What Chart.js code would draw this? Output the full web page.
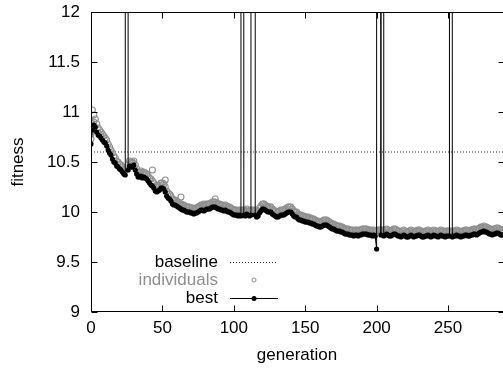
<!DOCTYPE html>
<html>
<head>
<meta charset="utf-8">
<script src="https://cdn.jsdelivr.net/npm/chart.js@4"></script>
<style>
  html, body { margin: 0; padding: 0; background: #fff; }
  #wrap { width: 503px; height: 370px; }
</style>
</head>
<body>
<div id="wrap"><canvas id="fitChart" width="503" height="370"></canvas></div>
<script>
// axis ticks
const xTicks = [0, 50, 100, 150, 200, 250];
const yTicks = [9, 9.5, 10, 10.5, 11, 11.5, 12];
const xMax = 288.5;   // visible part; the plot frame itself ends at 290, just past the edge
const xFrame = 290;
const baseline = 10.6;

// best fitness per generation (1000 = run blew up, goes off the top)
const best = [
  10.68, 10.82, 10.87, 10.85, 10.80, 10.77, 10.76, 10.74, 10.72, 10.70,
  10.69, 10.66, 10.62, 10.59, 10.57, 10.53, 10.50, 10.49, 10.46, 10.45,
  10.43, 10.42, 10.40, 10.38, 10.37, 1000, 10.42, 10.46, 10.45, 10.45,
  10.47, 10.42, 10.38, 10.35, 10.35, 10.36, 10.34, 10.35, 10.34, 10.33,
  10.31, 10.29, 10.27, 10.26, 10.24, 10.21, 10.20, 10.21, 10.22, 10.24,
  10.24, 10.23, 10.20, 10.16, 10.14, 10.13, 10.11, 10.08, 10.07, 10.07,
  10.06, 10.05, 10.04, 10.03, 10.02, 10.02, 10.01, 10.00, 10.00, 10.00,
  9.99, 9.99, 9.98, 9.99, 9.99, 10.00, 10.01, 10.02, 10.02, 10.01,
  10.02, 10.03, 10.03, 10.03, 10.04, 10.05, 10.05, 10.05, 10.04, 10.03,
  10.03, 10.02, 10.02, 10.01, 10.02, 10.01, 10.00, 10.00, 9.99, 9.98,
  9.97, 9.97, 9.97, 9.96, 9.97, 9.96, 1000, 9.97, 9.96, 9.98,
  9.97, 9.96, 9.97, 1000, 1000, 9.97, 9.95, 9.96, 9.99, 10.01,
  10.03, 10.03, 10.02, 10.01, 10.00, 10.00, 10.00, 9.98, 9.97, 9.96,
  9.95, 9.95, 9.96, 9.97, 9.97, 9.97, 9.98, 9.99, 10.00, 10.00,
  10.00, 9.98, 9.96, 9.95, 9.95, 9.93, 9.92, 9.92, 9.91, 9.91,
  9.90, 9.90, 9.90, 9.89, 9.89, 9.88, 9.88, 9.87, 9.86, 9.86,
  9.85, 9.85, 9.86, 9.87, 9.87, 9.87, 9.86, 9.85, 9.84, 9.83,
  9.83, 9.82, 9.81, 9.81, 9.81, 9.80, 9.80, 9.79, 9.78, 9.78,
  9.78, 9.77, 9.77, 9.77, 9.76, 9.77, 9.77, 9.76, 9.77, 9.77,
  9.78, 9.78, 9.78, 9.78, 9.77, 9.77, 9.77, 9.76, 9.77, 9.76,
  9.63, 1000, 1000, 9.77, 1000, 9.76, 9.77, 9.78, 9.77, 9.76,
  9.76, 9.77, 9.78, 9.78, 9.77, 9.76, 9.76, 9.75, 9.76, 9.77,
  9.76, 9.75, 9.75, 9.76, 9.77, 9.76, 9.75, 9.76, 9.76, 9.77,
  9.77, 9.76, 9.75, 9.75, 9.76, 9.76, 9.77, 9.76, 9.75, 9.76,
  9.77, 9.76, 9.76, 9.75, 9.76, 9.77, 9.76, 9.76, 9.75, 9.76,
  9.76, 9.76, 1000, 9.75, 9.76, 9.76, 9.77, 9.76, 9.76, 9.75,
  9.76, 9.76, 9.77, 9.77, 9.76, 9.76, 9.77, 9.77, 9.78, 9.78,
  9.77, 9.78, 9.79, 9.80, 9.80, 9.81, 9.80, 9.80, 9.79, 9.78,
  9.78, 9.77, 9.78, 9.78, 9.79, 9.79, 9.78, 9.77, 9.77, 9.77,
  9.78
];

// top of the population cloud per generation
const individuals = [
  10.78, 11.02, 10.97, 10.93, 10.88, 10.84, 10.82, 10.80, 10.78, 10.76,
  10.74, 10.72, 10.68, 10.65, 10.62, 10.59, 10.56, 10.54, 10.51, 10.50,
  10.48, 10.47, 10.45, 10.43, 10.42, 10.44, 10.47, 10.51, 10.50, 10.49,
  10.51, 10.47, 10.43, 10.40, 10.40, 10.41, 10.39, 10.40, 10.39, 10.38,
  10.36, 10.34, 10.33, 10.31, 10.29, 10.26, 10.25, 10.26, 10.27, 10.29,
  10.29, 10.28, 10.25, 10.21, 10.19, 10.18, 10.16, 10.13, 10.12, 10.12,
  10.11, 10.10, 10.09, 10.08, 10.07, 10.07, 10.06, 10.05, 10.05, 10.05,
  10.04, 10.04, 10.03, 10.04, 10.04, 10.05, 10.06, 10.07, 10.07, 10.06,
  10.07, 10.08, 10.08, 10.08, 10.09, 10.10, 10.10, 10.10, 10.09, 10.08,
  10.08, 10.07, 10.07, 10.06, 10.07, 10.06, 10.05, 10.05, 10.04, 10.03,
  10.02, 10.02, 10.02, 10.01, 10.02, 10.02, 10.01, 10.02, 10.01, 10.03,
  10.02, 10.01, 10.02, 10.02, 10.01, 10.02, 10.00, 10.01, 10.04, 10.06,
  10.08, 10.08, 10.07, 10.06, 10.05, 10.05, 10.05, 10.03, 10.02, 10.01,
  10.00, 10.00, 10.01, 10.02, 10.02, 10.02, 10.03, 10.04, 10.05, 10.05,
  10.05, 10.03, 10.01, 10.00, 10.00, 9.98, 9.97, 9.97, 9.96, 9.96,
  9.95, 9.95, 9.95, 9.94, 9.94, 9.93, 9.93, 9.92, 9.91, 9.91,
  9.90, 9.90, 9.91, 9.92, 9.92, 9.92, 9.91, 9.90, 9.89, 9.88,
  9.88, 9.87, 9.86, 9.86, 9.86, 9.85, 9.85, 9.84, 9.83, 9.83,
  9.83, 9.82, 9.82, 9.82, 9.81, 9.82, 9.82, 9.81, 9.82, 9.82,
  9.83, 9.83, 9.83, 9.83, 9.82, 9.82, 9.82, 9.81, 9.82, 9.81,
  9.81, 9.82, 9.82, 9.82, 9.82, 9.81, 9.82, 9.83, 9.82, 9.81,
  9.81, 9.82, 9.83, 9.83, 9.82, 9.81, 9.81, 9.80, 9.81, 9.82,
  9.81, 9.80, 9.80, 9.81, 9.82, 9.81, 9.80, 9.81, 9.81, 9.82,
  9.82, 9.81, 9.80, 9.80, 9.81, 9.81, 9.82, 9.81, 9.80, 9.81,
  9.82, 9.81, 9.81, 9.80, 9.81, 9.82, 9.81, 9.81, 9.80, 9.81,
  9.81, 9.81, 9.81, 9.80, 9.81, 9.81, 9.82, 9.81, 9.81, 9.80,
  9.81, 9.81, 9.82, 9.82, 9.81, 9.81, 9.82, 9.82, 9.83, 9.83,
  9.82, 9.83, 9.84, 9.85, 9.85, 9.86, 9.85, 9.85, 9.84, 9.83,
  9.83, 9.82, 9.83, 9.83, 9.84, 9.84, 9.83, 9.82, 9.82, 9.82,
  9.83
];

// stray individuals sitting above the cloud
const strayGens = [0, 0, 0, 0, 2, 29, 43, 52, 63, 79, 87, 121];
const strayFits = [10.92, 10.86, 10.80, 10.73, 10.90, 10.50, 10.42, 10.32, 10.15, 10.08, 10.13, 10.08];

const FONT = "'Liberation Sans', Arial, sans-serif";
const GRAY = "#8f8f8f";

const bestPts = best.map((v, g) => ({ x: g, y: v }));
const indPts = individuals.map((v, g) => ({ x: g, y: v }))
  .concat(strayGens.map((g, i) => ({ x: g, y: strayFits[i] })));
const basePts = [{ x: 0, y: baseline }, { x: xFrame, y: baseline }];

// frame, inward ticks on all four sides, and the gnuplot-style key
const framePlugin = {
  id: "frame",
  afterDraw(chart) {
    const { ctx, chartArea: a, scales: { x, y } } = chart;
    const L = Math.round(a.left) + 0.5, R = Math.round(x.getPixelForValue(xFrame)) - 0.5;
    const T = Math.round(a.top) + 0.5, B = Math.round(a.bottom) - 0.5;
    ctx.save();
    ctx.strokeStyle = "#000";
    ctx.lineWidth = 1;
    ctx.strokeRect(L, T, R - L, B - T);
    ctx.beginPath();
    xTicks.forEach(v => {
      const px = Math.round(x.getPixelForValue(v)) + 0.5;
      ctx.moveTo(px, B); ctx.lineTo(px, B - 6);
      ctx.moveTo(px, T); ctx.lineTo(px, T + 6);
    });
    yTicks.forEach(v => {
      const py = Math.round(y.getPixelForValue(v)) + 0.5;
      ctx.moveTo(L, py); ctx.lineTo(L + 6, py);
      ctx.moveTo(R, py); ctx.lineTo(R - 6, py);
    });
    ctx.stroke();

    // key
    ctx.font = "17px " + FONT;
    ctx.textAlign = "right";
    ctx.textBaseline = "middle";
    const tx = 218, sx0 = 230, sx1 = 278, sc = 254;
    const rows = [262, 280, 298];

    ctx.fillStyle = "#000";
    ctx.fillText("baseline", tx, rows[0]);
    ctx.setLineDash([1, 2]);
    ctx.strokeStyle = "#333";
    ctx.beginPath();
    ctx.moveTo(sx0, rows[0] + 0.5); ctx.lineTo(sx1, rows[0] + 0.5);
    ctx.stroke();
    ctx.setLineDash([]);

    ctx.fillStyle = GRAY;
    ctx.fillText("individuals", tx, rows[1]);
    ctx.strokeStyle = GRAY;
    ctx.beginPath();
    ctx.arc(sc, rows[1], 2, 0, Math.PI * 2);
    ctx.stroke();

    ctx.fillStyle = "#000";
    ctx.fillText("best", tx, rows[2]);
    ctx.strokeStyle = "#000";
    ctx.beginPath();
    ctx.moveTo(sx0, rows[2] + 0.5); ctx.lineTo(sx1, rows[2] + 0.5);
    ctx.stroke();
    ctx.beginPath();
    ctx.arc(sc, rows[2] + 0.5, 2.5, 0, Math.PI * 2);
    ctx.fill();
    ctx.restore();
  }
};

new Chart(document.getElementById("fitChart"), {
  type: "scatter",
  data: {
    datasets: [
      {
        label: "best",
        data: bestPts,
        showLine: true,
        borderColor: "#000",
        borderWidth: 1,
        pointRadius: 2.6,
        pointBackgroundColor: "#000",
        pointBorderWidth: 0,
      },
      {
        label: "individuals",
        data: indPts,
        pointRadius: 3,
        pointBorderColor: GRAY,
        pointBackgroundColor: "rgba(0,0,0,0)",
        pointBorderWidth: 1.1,
      },
      {
        label: "baseline",
        data: basePts,
        showLine: true,
        borderColor: "#333",
        borderWidth: 1,
        borderDash: [1, 2],
        pointRadius: 0,
      },
    ],
  },
  options: {
    responsive: false,
    animation: false,
    devicePixelRatio: 1,
    layout: { autoPadding: false, padding: { top: 12, right: 0, left: 0, bottom: 0 } },
    plugins: { legend: { display: false }, tooltip: { enabled: false } },
    scales: {
      x: {
        type: "linear",
        min: 0,
        max: xMax,
        afterBuildTicks: s => { s.ticks = xTicks.map(v => ({ value: v })); },
        afterFit: s => { s.height = 58; s.paddingLeft = 0; s.paddingRight = 0; },
        grid: { drawOnChartArea: false, drawTicks: false },
        border: { display: false },
        ticks: { color: "#000", padding: 6, maxRotation: 0, font: { family: FONT, size: 17 } },
        title: { display: true, text: "generation", color: "#000", padding: { top: 0, bottom: 4 }, font: { family: FONT, size: 17 } },
      },
      y: {
        type: "linear",
        min: 9,
        max: 12,
        afterBuildTicks: s => { s.ticks = yTicks.map(v => ({ value: v })); },
        afterFit: s => { s.width = 91; s.paddingTop = 0; s.paddingBottom = 0; },
        grid: { drawOnChartArea: false, drawTicks: false },
        border: { display: false },
        ticks: { color: "#000", padding: 11, font: { family: FONT, size: 17 }, callback: v => String(v) },
        title: { display: true, text: "fitness", color: "#000", padding: { top: 8, bottom: 0 }, font: { family: FONT, size: 17 } },
      },
    },
  },
  plugins: [framePlugin],
});
</script>
</body>
</html>
